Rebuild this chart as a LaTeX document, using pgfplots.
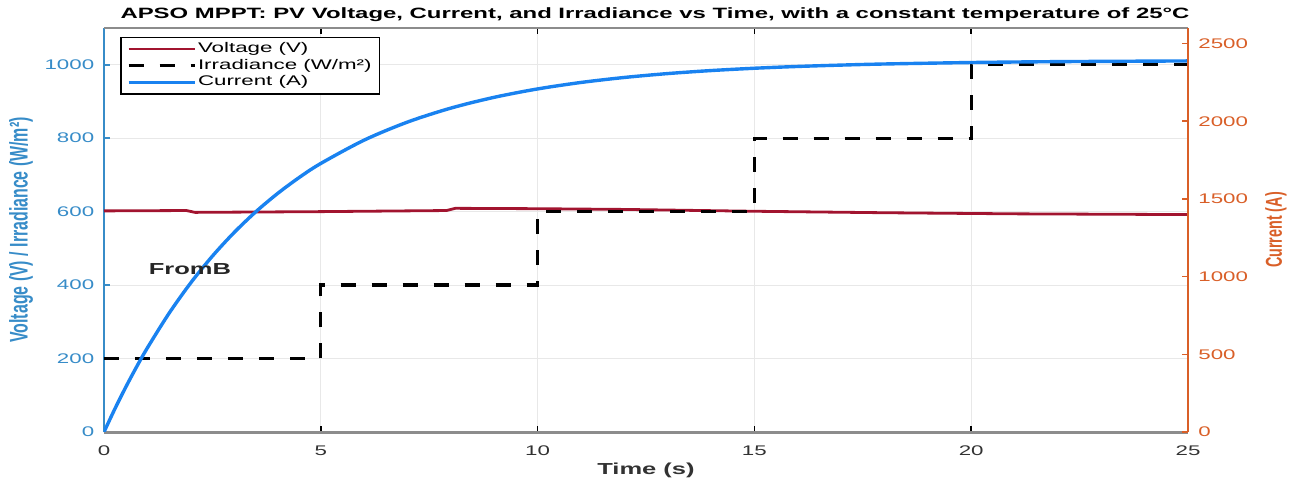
\documentclass[border=0pt]{standalone}
\usepackage{fontspec}
\setmainfont{Liberation Sans}[FakeStretch=1.6]
\newfontfamily\labelfont{Liberation Sans}
\usepackage{graphicx}
\usepackage{pgfplots}
\pgfplotsset{compat=1.18}

\definecolor{vred}{RGB}{162,20,47}
\definecolor{curblue}{RGB}{25,130,240}
\definecolor{leftblue}{RGB}{55,140,200}
\definecolor{rightorange}{RGB}{217,95,40}
\definecolor{axisgray}{RGB}{140,140,140}
\definecolor{gridgray}{RGB}{232,232,232}
\definecolor{ticktext}{RGB}{50,50,50}

\begin{document}
\begin{tikzpicture}
\begin{axis}[
  name=main,
  scale only axis, width=542bp, height=202bp,
  xmin=0, xmax=25, ymin=0, ymax=1100,
  axis x line*=bottom, axis y line*=left,
  x axis line style={-, draw=axisgray, line width=1.5bp},
  y axis line style={-, draw=leftblue, line width=0.9bp},
  xtick={0,5,...,25}, ytick={0,200,...,1000},
  tick align=inside, major tick length=3bp,
  x tick style={black, line width=0.8bp},
  y tick style={leftblue, line width=0.8bp},
  xmajorgrids, ymajorgrids, grid style={gridgray, line width=0.5bp},
  /pgf/number format/assume math mode=true,
  /pgf/number format/1000 sep={},
  tick label style={font=\fontsize{7}{8}\selectfont},
  xticklabel style={anchor=base, yshift=-11.5bp, text=ticktext},
  yticklabel style={anchor=east, inner sep=0pt, xshift=-4.7bp, text=leftblue},
  title={APSO MPPT: PV Voltage, Current, and Irradiance vs Time, with a constant temperature of 25°C},
  every axis title shift=0pt,
  title style={at={(rel axis cs:0.5,1)}, anchor=base, yshift=4.75bp, xshift=4.5bp, inner sep=0pt,
    font=\bfseries\fontsize{7.5}{9}\selectfont},
  xlabel={Time (s)},
  xlabel style={at={(rel axis cs:0.5,0)}, anchor=base, yshift=-21bp,
    font=\bfseries\fontsize{8}{9}\selectfont, text=ticktext},
  ylabel={\scalebox{1}[1.6]{Voltage (V) / Irradiance (W/m²)}},
  every axis y label/.style={at={(rel axis cs:-0.0766,0.5)}, rotate=90, anchor=center,
    font=\labelfont\bfseries\fontsize{8}{9}\selectfont, text=leftblue},
  legend image code/.code={\draw[#1] (0bp,0bp) -- (33bp,0bp);},
  legend style={at={(rel axis cs:0.0148,0.978)}, anchor=north west,
    draw=black, line width=0.8bp, fill=white,
    font=\fontsize{7}{8}\selectfont,
    nodes={inner sep=0.9bp}, row sep=0pt,
    inner xsep=3bp, inner ysep=1.5bp},
  legend cell align=left,
]
\addplot[vred, line width=1.4bp] coordinates {
  (0,602) (1.9,603) (2.1,598) (5,600) (7.9,603) (8.1,609) (10,608)
  (12,606) (15,601) (18,597) (21,594) (25,592)};
\addlegendentry{Voltage (V)}
\addplot[black, line width=1.6bp, dash pattern=on 7.5bp off 8bp, const plot] coordinates {
  (0,200) (5,400) (10,600) (15,800) (20,1000) (25,1000)};
\addlegendentry{Irradiance (W/m²)}
\addplot[curblue, line width=1.7bp, smooth] coordinates {
  (0,0) (0.25,62.8) (0.5,121.7) (0.75,177.0) (1,228.9) (1.5,323.1) (2,406.0)
  (2.5,478.9) (3,543.0) (3.5,599.5) (4,649.1) (4.5,692.8) (5,731.2) (6,794.7)
  (7,843.9) (8,881.9) (9,911.3) (10,934.1) (11,951.7) (12,965.3) (13,975.9)
  (14,984.1) (15,990.4) (16,995.3) (17,999.0) (18,1002.0) (20,1006.0)
  (22,1008.4) (25,1010.3)};
\addlegendentry{Current (A)}
\node[font=\bfseries\fontsize{8}{9}\selectfont, text=black!85] at (axis cs:1.98,443) {FromB};
\coordinate (SW) at (rel axis cs:0,0);
\coordinate (NE) at (rel axis cs:1,1);
\end{axis}

\begin{axis}[
  scale only axis, width=542bp, height=202bp,
  xmin=0, xmax=25, ymin=0, ymax=2600,
  axis x line*=top, axis y line*=right,
  x axis line style={-, draw=axisgray, line width=0.6bp},
  y axis line style={-, draw=rightorange, line width=0.9bp},
  xtick={5,10,15,20}, xticklabels={},
  ytick={0,500,...,2500},
  tick align=inside, major tick length=3bp,
  x tick style={black, line width=0.8bp},
  y tick style={rightorange, line width=0.8bp},
  /pgf/number format/assume math mode=true,
  /pgf/number format/1000 sep={},
  tick label style={font=\fontsize{7}{8}\selectfont},
  yticklabel style={anchor=west, inner sep=0pt, xshift=5bp, text=rightorange},
  ylabel={\scalebox{1}[1.6]{Current (A)}},
  every axis y label/.style={at={(rel axis cs:1.0812,0.5)}, rotate=90, anchor=center,
    font=\labelfont\bfseries\fontsize{7.2}{8}\selectfont, text=rightorange},
]
\end{axis}
\pgfresetboundingbox
\path[use as bounding box] ([xshift=-52bp,yshift=-25bp]SW) rectangle ([xshift=55bp,yshift=14bp]NE);
\end{tikzpicture}
\end{document}
